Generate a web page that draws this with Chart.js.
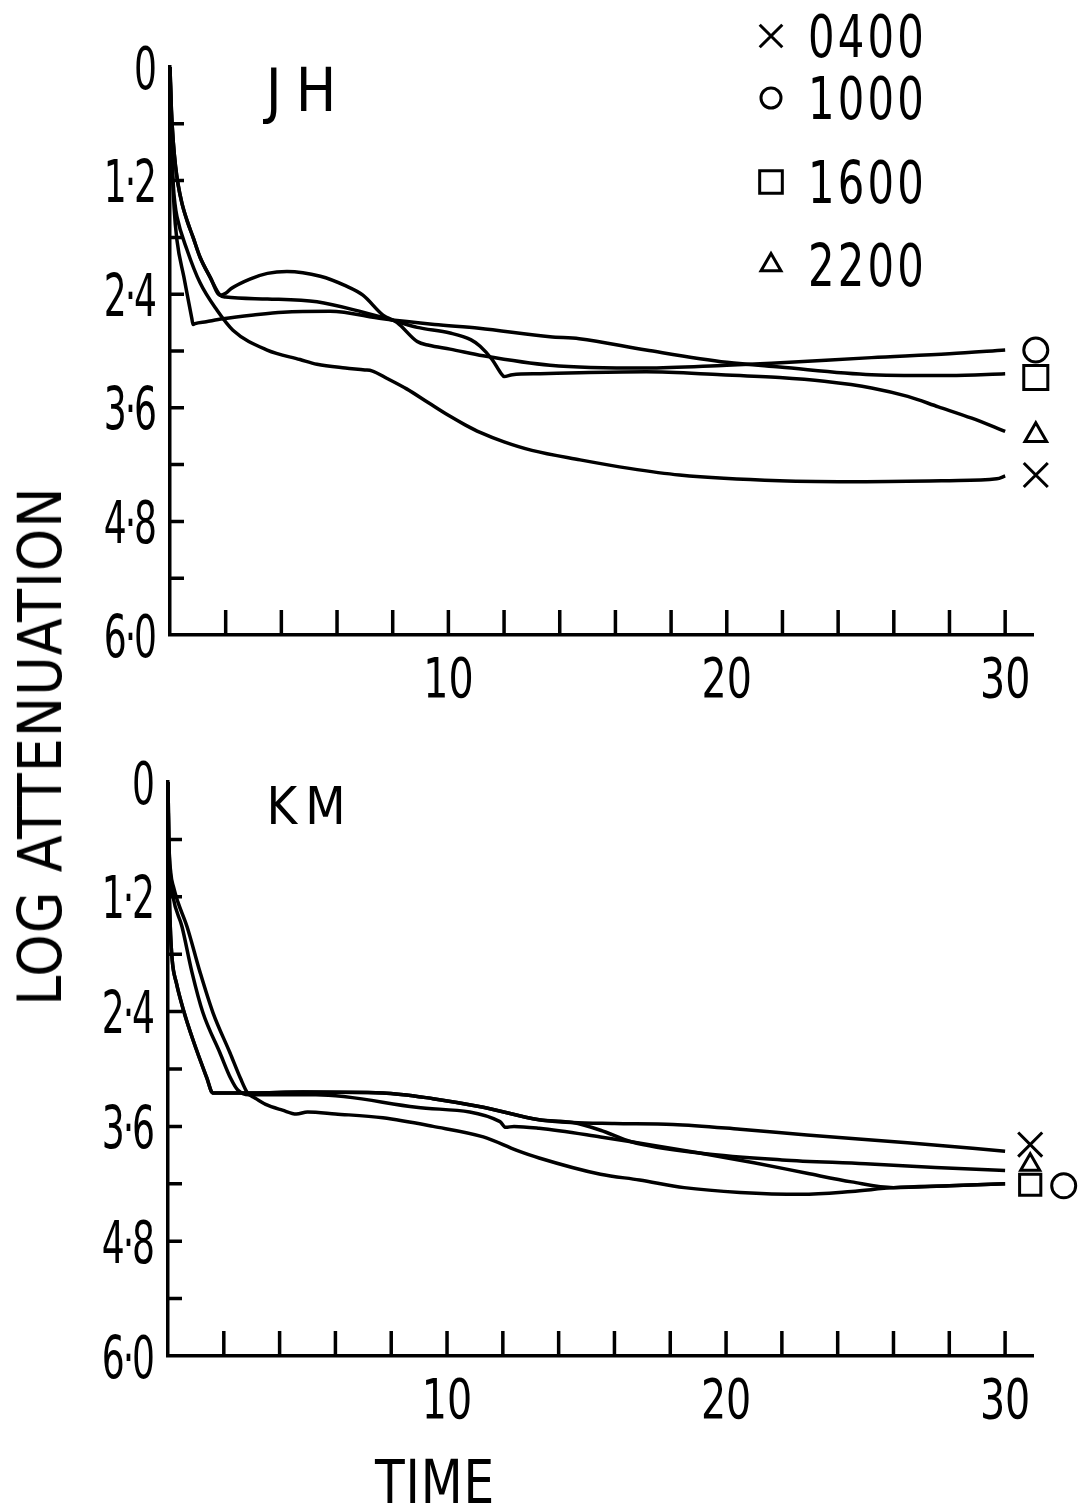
<!DOCTYPE html>
<html lang="en">
<head>
  <meta charset="UTF-8" />
  <title>Log attenuation – JH / KM</title>
  <style>
    * { margin: 0; padding: 0; box-sizing: border-box; }

    body {
      width: 1079px;
      height: 1511px;
      position: relative;
      overflow: hidden;
      background: #fff;
      color: #000;
      font-family: 'DejaVu Sans Condensed', 'DejaVu Sans', sans-serif;
    }

    canvas { position: absolute; left: 0; }
    #jhChart { top: 0; }
    #kmChart { top: 720px; }

    .txt {
      position: absolute;
      line-height: 1;
      white-space: nowrap;
      transform: translate(-50%, -50%);
    }
    #yTitle { left: 40px; top: 746px; font-size: 60px; letter-spacing: 1px; transform: translate(-50%, -50%) rotate(-90deg); }
    #xTitle { left: 435px; top: 1482px; font-size: 60px; letter-spacing: 1px; transform: translate(-50%, -50%) scaleX(0.9); }
    #jhName { left: 308px; top: 90px; font-size: 60px; letter-spacing: 14px; }
    #kmName { left: 310px; top: 806px; font-size: 52px; letter-spacing: 8px; }
  </style>
</head>
<body>
  <canvas id="jhChart" width="1079" height="720"></canvas>
  <canvas id="kmChart" width="1079" height="740"></canvas>

  <div class="txt" id="yTitle">LOG ATTENUATION</div>
  <div class="txt" id="xTitle">TIME</div>
  <div class="txt" id="jhName">JH</div>
  <div class="txt" id="kmName">KM</div>

  <script src="https://cdn.jsdelivr.net/npm/chart.js"></script>
  <script>
    const seriesLabels = ['0400', '1000', '1600', '2200'];
    const seriesMarks = ['crossRot', 'circle', 'rect', 'triangle'];
    const yTickLabels = ['0', '1·2', '2·4', '3·6', '4·8', '6·0'];
    const xTickLabels = ['10', '20', '30'];

    // JH panel
    const jh0400T = [0, 0.05, 0.12, 0.18, 0.25, 0.61, 1.08, 1.69, 2.26, 3.49, 4.67, 5.28, 6.3, 7.0, 7.25, 7.8, 8.5, 9.3, 10.0, 10.6, 11.14, 12.0, 13.0, 14.73, 16.5, 18.3, 21.9, 25, 28, 29.7, 30];
    const jh0400V = [0, 0.7, 1.25, 1.45, 1.58, 1.93, 2.28, 2.57, 2.78, 2.99, 3.09, 3.14, 3.18, 3.20, 3.21, 3.29, 3.40, 3.55, 3.68, 3.78, 3.86, 3.96, 4.05, 4.15, 4.24, 4.31, 4.37, 4.38, 4.37, 4.35, 4.32];
    const jh1000T = [0, 0.05, 0.12, 0.2, 0.29, 0.43, 0.61, 0.83, 1.08, 1.44, 1.8, 2.0, 2.2, 2.87, 3.5, 4.2, 5.4, 6.3, 6.93, 7.65, 8.16, 8.88, 9.3, 10.06, 11.25, 13.65, 17.1, 20.0, 21.6, 25.2, 28, 30];
    const jh1000V = [0, 0.45, 0.8, 1.05, 1.24, 1.44, 1.62, 1.80, 2.01, 2.22, 2.41, 2.39, 2.34, 2.24, 2.18, 2.16, 2.21, 2.31, 2.41, 2.62, 2.70, 2.90, 2.94, 2.98, 3.05, 3.15, 3.18, 3.15, 3.13, 3.07, 3.03, 2.99];
    const jh1600T = [0, 0.05, 0.15, 0.25, 0.5, 0.78, 0.83, 0.9, 1.3, 1.9, 3.0, 4.06, 5.75, 7.65, 9.5, 11.1, 13.65, 14.7, 17.1, 20.0, 21.9, 25.2, 28, 30];
    const jh1600V = [0, 0.8, 1.5, 1.83, 2.22, 2.65, 2.72, 2.71, 2.69, 2.66, 2.62, 2.59, 2.58, 2.66, 2.72, 2.76, 2.85, 2.87, 2.99, 3.12, 3.17, 3.25, 3.26, 3.24];
    const jh2200T = [0, 0.05, 0.12, 0.2, 0.29, 0.43, 0.61, 0.83, 1.08, 1.44, 1.8, 2.0, 3.5, 5.28, 6.93, 8.16, 8.88, 10.06, 10.8, 11.14, 11.57, 11.9, 12.0, 12.3, 13.3, 14.7, 17.1, 19.8, 21.9, 23.5, 25.2, 26.5, 27.6, 28.8, 30];
    const jh2200V = [0, 0.45, 0.8, 1.05, 1.24, 1.44, 1.62, 1.80, 2.01, 2.22, 2.41, 2.43, 2.45, 2.48, 2.59, 2.69, 2.75, 2.81, 2.88, 2.95, 3.09, 3.24, 3.27, 3.25, 3.24, 3.23, 3.22, 3.25, 3.28, 3.32, 3.39, 3.48, 3.59, 3.71, 3.85];
    const jhEndT = [31.1, 31.1, 31.1, 31.1];
    const jhEndV = [4.31, 2.99, 3.28, 3.89];

    // KM panel
    const km0400T = [0, 0.03, 0.08, 0.15, 0.3, 0.55, 0.9, 1.4, 1.6, 1.8, 3, 4.84, 7.7, 9.5, 11.3, 13.3, 14.5, 16, 18.1, 20.5, 22.9, 26.5, 30];
    const km0400V = [0, 0.9, 1.5, 1.86, 2.1, 2.38, 2.7, 3.1, 3.25, 3.25, 3.25, 3.24, 3.25, 3.31, 3.40, 3.53, 3.56, 3.57, 3.58, 3.63, 3.69, 3.77, 3.86];
    const km1000T = [0, 0.03, 0.08, 0.18, 0.5, 0.86, 1.25, 1.86, 2.25, 2.5, 2.9, 5.3, 8.9, 11.9, 12.1, 12.4, 13.3, 15.5, 16.6, 19.1, 21, 22.9, 24.5, 26, 28, 30];
    const km1000V = [0, 0.6, 0.95, 1.2, 1.51, 1.99, 2.41, 2.83, 3.1, 3.22, 3.27, 3.27, 3.40, 3.55, 3.61, 3.60, 3.62, 3.71, 3.76, 3.88, 3.98, 4.09, 4.18, 4.24, 4.22, 4.20];
    const km1600T = [0, 0.03, 0.1, 0.2, 0.35, 0.68, 1.15, 1.61, 2.22, 2.6, 2.85, 3.1, 3.5, 4.1, 4.6, 5.0, 6, 7.7, 9.5, 11.3, 12.5, 13.3, 15.5, 16.9, 18.5, 20.5, 22.7, 24.5, 26, 28, 30];
    const km1600V = [0, 0.6, 0.95, 1.1, 1.25, 1.51, 1.99, 2.41, 2.83, 3.1, 3.25, 3.3, 3.37, 3.43, 3.47, 3.45, 3.47, 3.51, 3.60, 3.71, 3.85, 3.93, 4.10, 4.16, 4.24, 4.29, 4.31, 4.28, 4.24, 4.22, 4.20];
    const km2200T = [0, 0.03, 0.08, 0.15, 0.3, 0.55, 0.9, 1.4, 1.6, 1.8, 3, 4.84, 7.7, 9.5, 11.3, 13.3, 14.5, 15.5, 16.6, 19.1, 22, 25, 27.5, 30];
    const km2200V = [0, 0.9, 1.5, 1.86, 2.1, 2.38, 2.7, 3.1, 3.25, 3.25, 3.25, 3.24, 3.25, 3.31, 3.40, 3.53, 3.56, 3.64, 3.76, 3.88, 3.95, 3.99, 4.03, 4.06];
    const kmEndT = [30.9, 32.1, 30.9, 30.9];
    const kmEndV = [3.79, 4.22, 4.21, 4.0];

    const FONT = "'DejaVu Sans Condensed', 'DejaVu Sans', sans-serif";
    const CAP = 0.729; // cap height of the face, in em

    const toPoints = (ts, vs) => ts.map((t, i) => ({ x: t, y: vs[i] }));

    function curve(ts, vs, label) {
      return {
        label: label,
        data: toPoints(ts, vs),
        borderColor: '#000',
        borderWidth: 3.5,
        pointRadius: 0,
        fill: false,
        cubicInterpolationMode: 'monotone'
      };
    }

    // narrow lettering: draw text squeezed horizontally around its anchor
    function squeezedText(ctx, text, x, baseline, align, sx, spacing) {
      ctx.save();
      ctx.translate(x, baseline);
      ctx.scale(sx, 1);
      ctx.letterSpacing = spacing + 'px';
      ctx.textAlign = align;
      ctx.fillText(text, align === 'right' ? -spacing : 0, 0);
      ctx.restore();
    }

    function xLabel(v) {
      return v > 0 && v % 10 === 0 ? xTickLabels[v / 10 - 1] : '';
    }

    function yLabel(v) {
      const k = Math.round(v / 0.6);
      return k % 2 === 0 ? yTickLabels[k / 2] : '';
    }

    // short tick marks pointing into the plot
    const innerTicks = {
      id: 'innerTicks',
      afterDatasetsDraw(chart, args, opts) {
        const { ctx, chartArea } = chart;
        const x = chart.scales.x, y = chart.scales.y;
        ctx.save();
        ctx.strokeStyle = '#000';
        ctx.lineWidth = 3.5;
        ctx.beginPath();
        x.ticks.forEach(t => {
          if (t.value <= 0) return;
          const px = x.getPixelForValue(t.value);
          ctx.moveTo(px, chartArea.bottom);
          ctx.lineTo(px, chartArea.bottom - opts.xLength);
        });
        y.ticks.forEach(t => {
          if (t.value <= 0 || t.value >= 5.99) return;
          const py = y.getPixelForValue(t.value);
          ctx.moveTo(chartArea.left, py);
          ctx.lineTo(chartArea.left + opts.yLength, py);
        });
        ctx.stroke();
        ctx.restore();
      }
    };

    // tick numbers, placed from the scales
    const axisLabels = {
      id: 'axisLabels',
      afterDraw(chart, args, opts) {
        const { ctx, chartArea } = chart;
        const x = chart.scales.x, y = chart.scales.y;
        ctx.save();
        ctx.fillStyle = '#000';
        ctx.textBaseline = 'alphabetic';
        ctx.font = opts.xSize + 'px ' + FONT;
        x.ticks.forEach(t => {
          const label = xLabel(t.value);
          if (label) squeezedText(ctx, label, x.getPixelForValue(t.value), chartArea.bottom + opts.xGap + CAP * opts.xSize, 'center', 0.8, 0);
        });
        ctx.font = opts.ySize + 'px ' + FONT;
        y.ticks.forEach(t => {
          const label = yLabel(t.value);
          if (label) squeezedText(ctx, label, chartArea.left - opts.yGap, y.getPixelForValue(t.value) + CAP * opts.ySize / 2, 'right', 0.68, -3);
        });
        ctx.restore();
      }
    };

    // symbols at the right-hand end of each curve
    const endMarks = {
      id: 'endMarks',
      afterDatasetsDraw(chart, args, opts) {
        const ctx = chart.ctx;
        const x = chart.scales.x, y = chart.scales.y;
        ctx.save();
        ctx.lineWidth = 3;
        ctx.strokeStyle = '#000';
        ctx.fillStyle = 'rgba(255,255,255,0)';
        opts.t.forEach((t, i) => {
          Chart.helpers.drawPoint(ctx, { pointStyle: seriesMarks[i], radius: opts.radius[i], borderWidth: 3 },
            x.getPixelForValue(t), y.getPixelForValue(opts.v[i]));
        });
        ctx.restore();
      }
    };

    // symbol key in the upper right corner
    const markLegend = {
      id: 'markLegend',
      afterDraw(chart, args, opts) {
        if (!opts.rows) return;
        const ctx = chart.ctx;
        ctx.save();
        ctx.lineWidth = 3;
        ctx.strokeStyle = '#000';
        ctx.font = opts.size + 'px ' + FONT;
        ctx.textBaseline = 'alphabetic';
        seriesLabels.forEach((label, i) => {
          const y = opts.rows[i];
          ctx.fillStyle = '#fff';
          Chart.helpers.drawPoint(ctx, { pointStyle: seriesMarks[i], radius: opts.radius[i], borderWidth: 3 }, opts.markX, y);
          ctx.fillStyle = '#000';
          squeezedText(ctx, label, opts.textX, y + CAP * opts.size / 2, 'left', 0.8, 4);
        });
        ctx.restore();
      }
    };

    function panelOptions(geo) {
      return {
        responsive: false,
        animation: false,
        events: [],
        layout: { padding: { top: geo.top, right: geo.right, bottom: 0, left: 0 } },
        plugins: {
          legend: { display: false },
          tooltip: { enabled: false },
          innerTicks: { xLength: 25, yLength: 14 },
          axisLabels: { xSize: 55, xGap: 22, ySize: 59, yGap: 17 },
          endMarks: geo.ends,
          markLegend: geo.legend || {}
        },
        scales: {
          x: {
            type: 'linear',
            min: 0,
            max: 31,
            grid: { display: false, drawTicks: false },
            border: { display: true, color: '#000', width: 3.5 },
            ticks: { display: false, stepSize: 2, includeBounds: false, autoSkip: false },
            afterFit: s => { s.height = geo.xHeight; }
          },
          y: {
            type: 'linear',
            min: 0,
            max: 6,
            reverse: true,
            grid: { display: false, drawTicks: false },
            border: { display: true, color: '#000', width: 3.5 },
            ticks: { display: false, stepSize: 0.6, autoSkip: false },
            afterFit: s => { s.width = geo.left; }
          }
        }
      };
    }

    const panelPlugins = [innerTicks, axisLabels, endMarks, markLegend];

    new Chart(document.getElementById('jhChart'), {
      type: 'line',
      data: {
        datasets: [
          curve(jh0400T, jh0400V, seriesLabels[0]),
          curve(jh1000T, jh1000V, seriesLabels[1]),
          curve(jh1600T, jh1600V, seriesLabels[2]),
          curve(jh2200T, jh2200V, seriesLabels[3])
        ]
      },
      options: panelOptions({
        top: 67, right: 46, left: 170, xHeight: 85,
        ends: { t: jhEndT, v: jhEndV, radius: [17, 12, 17, 12.5] },
        legend: { rows: [36, 98, 182, 265], markX: 771, textX: 808, size: 58, radius: [16, 10, 16, 11.5] }
      }),
      plugins: panelPlugins
    });

    new Chart(document.getElementById('kmChart'), {
      type: 'line',
      data: {
        datasets: [
          curve(km0400T, km0400V, seriesLabels[0]),
          curve(km1000T, km1000V, seriesLabels[1]),
          curve(km1600T, km1600V, seriesLabels[2]),
          curve(km2200T, km2200V, seriesLabels[3])
        ]
      },
      options: panelOptions({
        top: 62, right: 46, left: 168, xHeight: 104,
        ends: { t: kmEndT, v: kmEndV, radius: [17, 12, 15, 11] }
      }),
      plugins: panelPlugins
    });
  </script>
</body>
</html>
